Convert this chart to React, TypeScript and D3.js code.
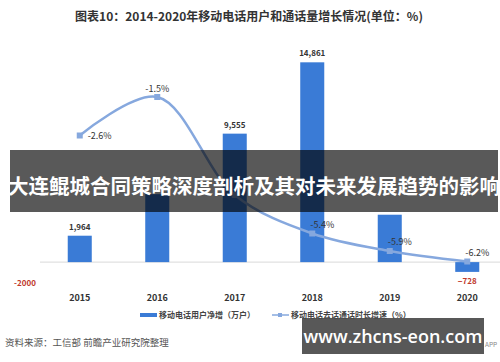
import React from "react";
import * as d3 from "d3";

const years = ["2015", "2016", "2017", "2018", "2019", "2020"];
const netAdds = [1964, 5054, 9555, 14861, 3525, -728]; // 万户
const growth = [-2.6, -1.5, -4.3, -5.4, -5.9, -6.2]; // %
const growthLabels = ["-2.6%", "-1.5%", "-4.3%", "-5.4%", "-5.9%", "-6.2%"];

const W = 500;
const H = 362;
const FONT = "'Noto Sans CJK SC', 'Noto Sans', sans-serif";
const BAR = "#3a7bd6";
const LINE = "#86a8de";

// banner overlay that covers the middle of the picture
const BANNER = { x: 10, y: 150, w: 488, h: 62 };
const underBanner = (y: number) => y > BANNER.y - 4 && y < BANNER.y + BANNER.h + 6;

const x = d3.scaleBand<string>()
  .domain(years)
  .range([41, 506])
  .paddingInner(0.69)
  .paddingOuter(0.345);

const yBar = d3.scaleLinear().domain([-2000, 16000]).range([289, 47]);
const yLine = d3.scaleLinear().domain([-7, -1]).range([289.5, 79.5]);

const fmt = d3.format(",");

export default function App() {
  const cx = (y: string) => (x(y) as number) + x.bandwidth() / 2;
  const pts: [number, number][] = years.map((yr, i) => [cx(yr), yLine(growth[i])]);
  const lineGen = d3.line().curve(d3.curveCatmullRom.alpha(0.5));
  const base = yBar(0);

  return (
    <svg width={W} height={H} style={{ position: "absolute", left: 0, top: 0, background: "#fff" }} fontFamily={FONT}>
      <rect width={W} height={H} fill="#fff" />
      {/* title */}
      <text x={249} y={21} textAnchor="middle" fontSize={12} fontWeight="bold" fill="#333">
        图表10：2014-2020年移动电话用户和通话量增长情况(单位：%)
      </text>

      {/* baseline */}
      <line x1={40} x2={500} y1={base} y2={base} stroke="#d9d9d9" strokeWidth={1} />

      {/* bars */}
      {years.map((yr, i) => {
        const v = netAdds[i];
        const y0 = Math.min(yBar(v), base);
        const h = Math.abs(yBar(v) - base);
        return <rect key={yr} x={x(yr)} y={y0} width={x.bandwidth()} height={h} fill={BAR} />;
      })}
      {years.map((yr, i) => {
        const v = netAdds[i];
        const neg = v < 0;
        const ty = neg ? yBar(v) + 12 : yBar(v) - 6;
        if (underBanner(ty)) return null;
        return (
          <text key={"bl" + yr} x={cx(yr)} y={ty} textAnchor="middle"
            fontSize={8} fontWeight="bold" fill={neg ? "#c0392b" : "#333"}>
            {fmt(v)}
          </text>
        );
      })}

      {/* growth line */}
      <path d={lineGen(pts) || ""} fill="none" stroke={LINE} strokeWidth={2.5} />
      {pts.map(([px, py], i) => (
        <rect key={"m" + i} x={px - 3} y={py - 3} width={6} height={6} fill={LINE} />
      ))}
      {pts.map(([px, py], i) => {
        let tx = px + 8, ty = py + 3, anchor = "start";
        if (i === 1) { tx = px; ty = py - 5; anchor = "middle"; }
        if (i >= 2) { tx = px + 10; ty = py - 6; anchor = "middle"; }
        if (underBanner(ty)) return null;
        return (
          <text key={"gl" + i} x={tx} y={ty} textAnchor={anchor} fontSize={9} fill="#333">
            {growthLabels[i]}
          </text>
        );
      })}

      {/* x labels */}
      {years.map((yr) => (
        <text key={"x" + yr} x={cx(yr)} y={301} textAnchor="middle" fontSize={9} fontWeight="bold" fill="#333">
          {yr}
        </text>
      ))}
      <text x={25} y={yBar(-2000) - 3} textAnchor="middle" fontSize={8} fontWeight="bold" fill="#c0392b">
        -2000
      </text>

      {/* legend */}
      <rect x={140} y={313} width={17} height={4} fill={BAR} />
      <text x={159} y={318} fontSize={8} fontWeight="bold" fill="#444">移动电话用户净增（万户）</text>
      <line x1={272} x2={289} y1={315} y2={315} stroke={LINE} strokeWidth={1.5} />
      <rect x={278} y={313} width={4} height={4} fill={LINE} />
      <text x={291} y={318} fontSize={8} fontWeight="bold" fill="#444">移动电话去话通话时长增速（%）</text>

      {/* source */}
      <text x={5} y={346} fontSize={9.5} fill="#555">资料来源：工信部 前瞻产业研究院整理</text>
      <text x={485} y={347} fontSize={6.5} fill="#888">APP</text>

      {/* overlay banner */}
      <rect x={BANNER.x} y={BANNER.y} width={BANNER.w} height={BANNER.h} fill="#000" opacity={0.65} />
      <text x={BANNER.x + BANNER.w / 2} y={194} textAnchor="middle" fontSize={20.5} fontWeight="bold" fill="#fff">
        大连鲲城合同策略深度剖析及其对未来发展趋势的影响
      </text>

      {/* watermark box */}
      <rect x={302} y={318} width={182} height={36} fill="#4a4a4a" opacity={0.92} />
      <text x={393} y={343} textAnchor="middle" fontSize={18} fontWeight={600} fill="#fff"
        fontFamily="'Open Sans', 'Noto Sans', sans-serif">
        www.zhcns-eon.com
      </text>
    </svg>
  );
}
